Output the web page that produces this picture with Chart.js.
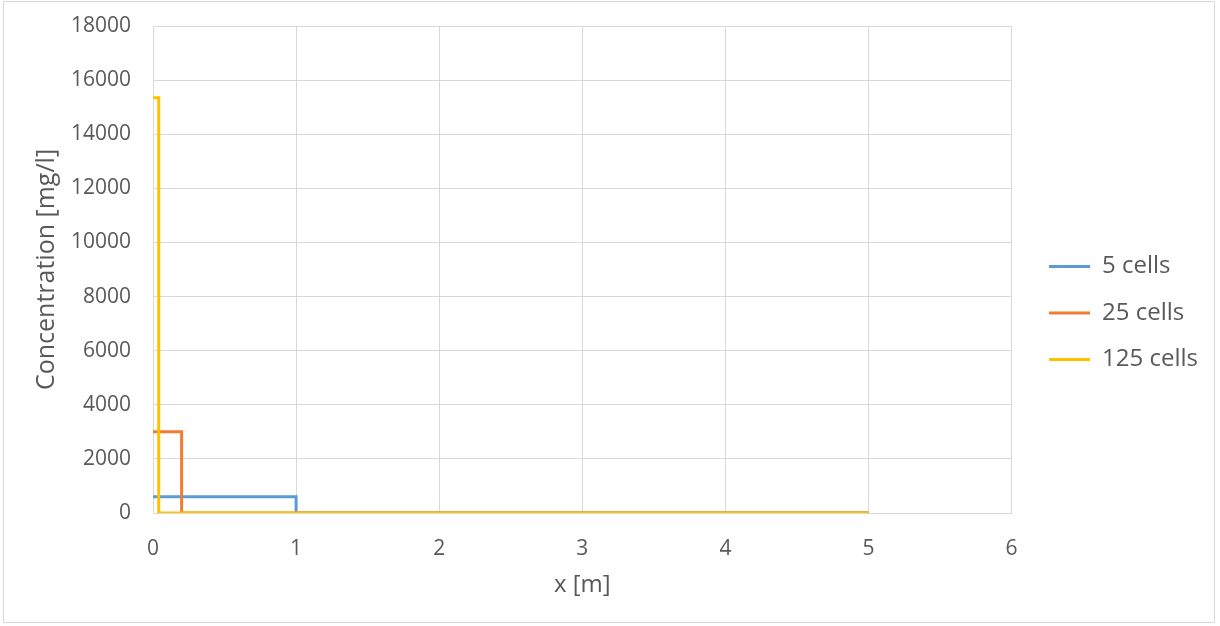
<!DOCTYPE html>
<html>
<head>
<meta charset="utf-8">
<script src="https://cdn.jsdelivr.net/npm/chart.js@4.4.1/dist/chart.umd.min.js"></script>
<style>
  body { margin: 0; background: #fff; }
  #box { position: absolute; left: 3px; top: 1px; width: 1210px; height: 620px; border: 1px solid #d9d9d9; }
</style>
</head>
<body>
<div id="box"><canvas id="chart"></canvas></div>
<script>
// step profiles, x in m, concentration in mg/l
const seriesNames = ["5 cells", "25 cells", "125 cells"];
const x5 = [0, 1, 1, 5];
const c5 = [600, 600, 0, 0];
const x25 = [0, 0.2, 0.2, 5];
const c25 = [3000, 3000, 0, 0];
const x125 = [0, 0.04, 0.04, 5];
const c125 = [15350, 15350, 0, 0];
const colors = ["#5B9BD5", "#ED7D31", "#FFC000"];

const xTicks = [0, 1, 2, 3, 4, 5, 6];
const yTicks = [0, 2000, 4000, 6000, 8000, 10000, 12000, 14000, 16000, 18000];

const toPoints = (xs, ys) => xs.map((x, i) => ({ x: x, y: ys[i] }));

const font = "'Open Sans', sans-serif";
const grey = "#595959";
const gridCol = "#d9d9d9";

const ctx = document.getElementById("chart").getContext("2d");
new Chart(ctx, {
  type: "scatter",
  data: {
    datasets: [
      { label: seriesNames[0], data: toPoints(x5, c5), order: 2 },
      { label: seriesNames[1], data: toPoints(x25, c25), order: 1 },
      { label: seriesNames[2], data: toPoints(x125, c125), order: 0 }
    ].map((d, i) => Object.assign(d, {
      showLine: true,
      borderColor: colors[i],
      backgroundColor: colors[i],
      borderWidth: 3,
      pointRadius: 0,
      pointHoverRadius: 0,
      tension: 0
    }))
  },
  options: {
    responsive: true,
    maintainAspectRatio: false,
    animation: false,
    layout: { padding: { top: 24, right: 6, left: 28, bottom: 22 } },
    plugins: {
      tooltip: { enabled: false },
      legend: {
        position: "right",
        labels: {
          usePointStyle: true,
          pointStyle: "line",
          pointStyleWidth: 41,
          padding: 22.5,
          color: grey,
          font: { family: font, size: 24 },
          sort: (a, b) => a.datasetIndex - b.datasetIndex
        }
      }
    },
    scales: {
      x: {
        type: "linear",
        min: 0,
        max: 6,
        afterBuildTicks: axis => { axis.ticks = xTicks.map(v => ({ value: v })); },
        afterFit: s => { s.height = 87; },
        grid: { color: gridCol, lineWidth: 1, drawTicks: false },
        border: { color: gridCol },
        ticks: { color: grey, font: { family: font, size: 21 }, padding: 23, callback: v => v },
        title: { display: true, text: "x [m]", color: grey, font: { family: font, size: 24 }, padding: 0 }
      },
      y: {
        min: 0,
        max: 18000,
        afterBuildTicks: axis => { axis.ticks = yTicks.map(v => ({ value: v })); },
        afterFit: s => { s.width = 121; s.paddingTop = 0; },
        grid: { color: gridCol, lineWidth: 1, drawTicks: false },
        border: { color: gridCol },
        ticks: { color: grey, font: { family: font, size: 21 }, padding: 22, callback: v => v },
        title: { display: true, text: "Concentration [mg/l]", color: grey, font: { family: font, size: 25 }, padding: 0 }
      },
      // empty spacer axis: keeps the gap between plot and legend
      gap: {
        position: "right",
        display: true,
        grid: { display: false, drawOnChartArea: false },
        border: { display: false },
        ticks: { display: false },
        afterFit: s => { s.width = 15; }
      }
    }
  }
});
</script>
</body>
</html>
